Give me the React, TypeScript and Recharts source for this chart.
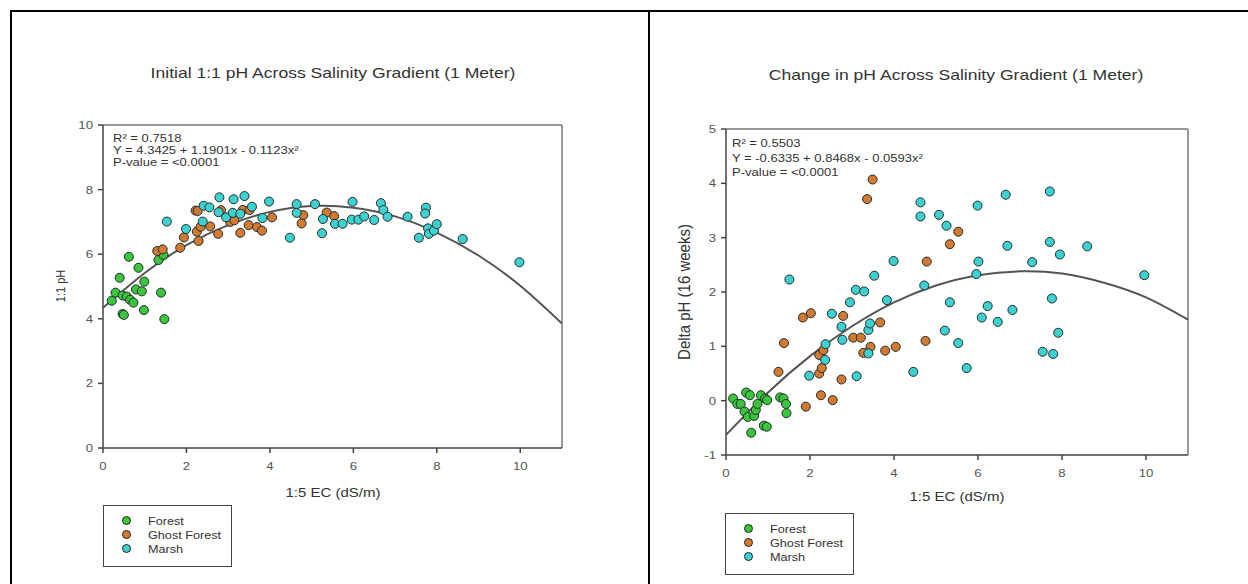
import React from 'react';
import { ComposedChart, Scatter, Line, XAxis, YAxis, ReferenceLine, Legend } from 'recharts';

const FONT = '"Liberation Sans", Arial, sans-serif';

// series colours as in the original SigmaPlot figure
const COLORS = ['#3cc43c', '#d27a32', '#3fd0d0'];
const SERIES_NAMES = ['Forest', 'Ghost Forest', 'Marsh'];

const xTicks = [0, 2, 4, 6, 8, 10];
const initialYTicks = [0, 2, 4, 6, 8, 10];
const deltaYTicks = [-1, 0, 1, 2, 3, 4, 5];

// left panel: initial 1:1 pH vs 1:5 EC
const forestInitial = [
  [0.21, 4.56], [0.3, 4.81], [0.4, 5.27], [0.62, 5.92], [0.47, 4.72], [0.57, 4.69], [0.65, 4.59],
  [0.73, 4.5], [0.47, 4.15], [0.5, 4.12], [0.85, 5.58], [0.79, 4.91], [0.93, 4.85], [0.99, 5.15],
  [0.98, 4.27], [1.39, 4.81], [1.47, 3.99], [1.33, 5.82], [1.45, 5.98],
];
const ghostInitial = [
  [1.3, 6.1], [1.43, 6.15], [1.85, 6.2], [1.94, 6.52], [2.22, 7.35], [2.27, 7.34], [2.25, 6.7],
  [2.29, 6.41], [2.34, 6.85], [2.57, 6.86], [2.76, 6.63], [2.83, 7.36], [3.05, 7.0], [3.15, 7.05],
  [3.29, 6.66], [3.35, 7.37], [3.49, 6.9], [3.51, 7.37], [3.69, 6.84], [3.81, 6.73], [4.05, 7.14],
  [4.8, 7.21], [4.76, 6.95], [5.36, 7.29], [5.54, 7.18],
];
const marshInitial = [
  [1.53, 7.01], [1.99, 6.78], [2.41, 7.5], [2.55, 7.45], [2.39, 7.01], [2.79, 7.76], [2.77, 7.3],
  [2.95, 7.14], [3.13, 7.7], [3.11, 7.28], [3.29, 7.25], [3.39, 7.8], [3.57, 7.47], [3.82, 7.12],
  [3.98, 7.63], [4.48, 6.51], [4.64, 7.55], [4.64, 7.28], [5.08, 7.55], [5.27, 7.09], [5.25, 6.65],
  [5.56, 6.94], [5.74, 6.94], [5.98, 7.62], [5.96, 7.07], [6.12, 7.07], [6.26, 7.17], [6.5, 7.06],
  [6.66, 7.58], [6.72, 7.37], [6.82, 7.16], [7.3, 7.16], [7.74, 7.44], [7.72, 7.26], [7.57, 6.51],
  [7.79, 6.8], [7.81, 6.63], [7.93, 6.73], [8.0, 6.93], [8.62, 6.47], [9.98, 5.75],
];
const fitInitial = [
  [0, 4.34], [1, 5.42], [2, 6.28], [3, 6.9], [4, 7.31], [5, 7.49], [6, 7.44], [7, 7.17],
  [8, 6.67], [9, 5.96], [10, 5.02], [11, 3.85],
];

// right panel: delta pH after 16 weeks
const forestDelta = [
  [0.17, 0.04], [0.27, -0.06], [0.35, -0.06], [0.48, 0.15], [0.57, 0.1], [0.44, -0.2], [0.52, -0.3],
  [0.6, -0.59], [0.67, -0.28], [0.71, -0.17], [0.75, -0.06], [0.83, 0.1], [0.93, 0.04], [0.98, 0.01],
  [0.9, -0.46], [0.97, -0.48], [1.29, 0.06], [1.37, 0.04], [1.43, -0.06], [1.44, -0.23],
];
const ghostDelta = [
  [1.25, 0.53], [1.38, 1.06], [1.83, 1.53], [2.02, 1.61], [1.9, -0.11], [2.22, 0.84], [2.32, 0.93],
  [2.22, 0.5], [2.28, 0.6], [2.26, 0.1], [2.54, 0.01], [2.75, 0.39], [2.79, 1.56], [3.03, 1.16],
  [3.21, 1.16], [3.27, 0.88], [3.36, 3.71], [3.49, 4.07], [3.44, 0.99], [3.67, 1.44], [3.79, 0.92],
  [4.04, 0.99], [4.78, 2.56], [4.75, 1.1], [5.33, 2.88], [5.53, 3.11],
];
const marshDelta = [
  [1.51, 2.23], [1.98, 0.46], [2.36, 0.75], [2.37, 1.04], [2.52, 1.6], [2.75, 1.36], [2.77, 1.12],
  [2.95, 1.81], [3.09, 2.04], [3.29, 2.01], [3.11, 0.45], [3.39, 1.3], [3.43, 1.42], [3.39, 0.87],
  [3.53, 2.3], [3.83, 1.85], [3.99, 2.57], [4.46, 0.53], [4.63, 3.65], [4.63, 3.39], [4.72, 2.12],
  [5.07, 3.42], [5.25, 3.22], [5.33, 1.81], [5.21, 1.29], [5.53, 1.06], [5.73, 0.6], [5.99, 3.59],
  [6.01, 2.56], [5.96, 2.33], [6.09, 1.53], [6.23, 1.74], [6.47, 1.45], [6.66, 3.79], [6.7, 2.85],
  [6.82, 1.67], [7.29, 2.55], [7.71, 3.85], [7.71, 2.92], [7.95, 2.69], [7.76, 1.88], [7.91, 1.25],
  [7.54, 0.9], [7.79, 0.86], [8.6, 2.84], [9.96, 2.31],
];
const fitDelta = [
  [0, -0.63], [1, 0.15], [2, 0.82], [3, 1.37], [4, 1.81], [5, 2.12], [6, 2.31], [7, 2.38],
  [8, 2.34], [9, 2.17], [10, 1.9], [11, 1.49],
];

const toPoints = (pairs: number[][]) => pairs.map(([x, y]) => ({ x, y }));

const XTick = (props: any) => {
  const { x, y, payload } = props;
  return (
    <g transform={`translate(${x},${y}) scale(1.2,1)`}>
      <text x={0} y={0} dy="0.71em" textAnchor="middle" fill="#555" fontSize={11} fontFamily={FONT}>
        {payload.value}
      </text>
    </g>
  );
};

const YTick = (props: any) => {
  const { x, y, payload } = props;
  return (
    <g transform={`translate(${x},${y}) scale(1.2,1)`}>
      <text x={0} y={0} dy="0.355em" textAnchor="end" fill="#555" fontSize={11} fontFamily={FONT}>
        {payload.value}
      </text>
    </g>
  );
};

const LegendBox = () => (
  <div style={{ width: 129, height: 62, border: '1.5px solid #444', boxSizing: 'border-box', background: '#fff', position: 'relative' }}>
    {SERIES_NAMES.map((name, i) => (
      <div key={name} style={{ position: 'absolute', left: 0, top: 7.5 + i * 14, height: 14, width: '100%' }}>
        <span
          style={{
            position: 'absolute', left: 17.7, top: 2.5, width: 9, height: 9, borderRadius: '50%',
            background: COLORS[i], border: '1px solid #222', boxSizing: 'border-box',
          }}
        />
        <span
          style={{
            position: 'absolute', left: 43.8, top: 0, lineHeight: '14px', fontSize: 11.5, color: '#333',
            fontFamily: FONT, whiteSpace: 'nowrap', transform: 'scaleX(1.1)', transformOrigin: 'left center',
          }}
        >
          {name}
        </span>
      </div>
    ))}
  </div>
);

interface PanelProps {
  left: number;
  width: number;
  margin: { top: number; right: number; bottom: number; left: number };
  yDomain: [number, number];
  yTicks: number[];
  series: number[][][];
  fit: number[][];
  legendPos: { left: number; top: number };
}

const Panel = ({ left, width, margin, yDomain, yTicks, series, fit, legendPos }: PanelProps) => (
  <div style={{ position: 'absolute', left, top: 0 }}>
    <ComposedChart width={width} height={584} margin={margin}>
      <XAxis
        type="number" dataKey="x" domain={[0, 11]} ticks={xTicks} allowDataOverflow
        stroke="#444" strokeWidth={1.5} tickSize={5} tickMargin={9} height={30} tick={<XTick />}
      />
      <YAxis
        type="number" dataKey="y" domain={yDomain} ticks={yTicks} allowDataOverflow
        stroke="#444" strokeWidth={1.5} tickSize={5} tickMargin={5} width={58} tick={<YTick />}
      />
      <ReferenceLine y={yDomain[1]} stroke="#777" strokeWidth={1.5} />
      <ReferenceLine x={11} stroke="#777" strokeWidth={1.5} />
      <Line
        data={toPoints(fit)} dataKey="y" type="natural" stroke="#555" strokeWidth={2}
        dot={false} activeDot={false} isAnimationActive={false}
      />
      {series.map((pts, i) => (
        <Scatter
          key={SERIES_NAMES[i]} name={SERIES_NAMES[i]} data={toPoints(pts)} dataKey="y"
          fill={COLORS[i]} stroke="#1f2f2f" strokeWidth={1} isAnimationActive={false}
        />
      ))}
      <Legend
        verticalAlign="middle" align="center" layout="horizontal"
        wrapperStyle={{ left: legendPos.left, top: legendPos.top, width: 129, height: 62 }}
        content={() => <LegendBox />}
      />
    </ComposedChart>
  </div>
);

const textBase: React.CSSProperties = {
  position: 'absolute', fontFamily: FONT, whiteSpace: 'nowrap', color: '#333',
};

const Centered = ({ x, y, size, sx, children }: any) => (
  <div style={{ ...textBase, left: x, top: y, fontSize: size, lineHeight: 1, transform: `translate(-50%, -50%) scaleX(${sx})` }}>
    {children}
  </div>
);

const Rotated = ({ x, y, size, sy, children }: any) => (
  <div style={{ ...textBase, left: x, top: y, fontSize: size, lineHeight: 1, transform: `translate(-50%, -50%) rotate(-90deg) scaleY(${sy})` }}>
    {children}
  </div>
);

const Note = ({ x, rows, lines }: { x: number; rows: number[]; lines: string[] }) => (
  <>
    {lines.map((t, i) => (
      <div
        key={t}
        style={{
          ...textBase, left: x, top: rows[i], fontSize: 10.5, lineHeight: 1,
          transform: 'translateY(-50%) scaleX(1.24)', transformOrigin: 'left center',
        }}
      >
        {t}
      </div>
    ))}
  </>
);

export default function App() {
  return (
    <div style={{ position: 'absolute', left: 0, top: 0, width: 1248, height: 584, background: '#fff', overflow: 'hidden' }}>
      <Panel
        left={0} width={640}
        margin={{ top: 125, right: 78, bottom: 106, left: 45 }}
        yDomain={[0, 10]} yTicks={initialYTicks}
        series={[forestInitial, ghostInitial, marshInitial]} fit={fitInitial}
        legendPos={{ left: 103, top: 505 }}
      />
      <Panel
        left={650} width={598}
        margin={{ top: 129, right: 60, bottom: 99, left: 18 }}
        yDomain={[-1, 5]} yTicks={deltaYTicks}
        series={[forestDelta, ghostDelta, marshDelta]} fit={fitDelta}
        legendPos={{ left: 75, top: 513 }}
      />

      {/* table frame */}
      <div style={{ position: 'absolute', left: 10, top: 10, width: 1238, height: 2, background: '#000' }} />
      <div style={{ position: 'absolute', left: 10, top: 10, width: 2, height: 574, background: '#000' }} />
      <div style={{ position: 'absolute', left: 648, top: 10, width: 2, height: 574, background: '#000' }} />

      <Centered x={333} y={72} size={15} sx={1.17}>Initial 1:1 pH Across Salinity Gradient (1 Meter)</Centered>
      <Centered x={956} y={74} size={15} sx={1.17}>Change in pH Across Salinity Gradient (1 Meter)</Centered>

      <Centered x={333} y={493} size={12.5} sx={1.2}>1:5 EC (dS/m)</Centered>
      <Centered x={957} y={497} size={12.5} sx={1.2}>1:5 EC (dS/m)</Centered>

      <Rotated x={61} y={286} size={11} sy={1.2}>1:1 pH</Rotated>
      <Rotated x={684} y={292} size={15} sy={1.05}>Delta pH (16 weeks)</Rotated>

      <Note x={113} rows={[138, 150, 162]} lines={['R² = 0.7518', 'Y = 4.3425 + 1.1901x - 0.1123x²', 'P-value = <0.0001']} />
      <Note x={732} rows={[143, 158, 172]} lines={['R² = 0.5503', 'Y = -0.6335 + 0.8468x - 0.0593x²', 'P-value = <0.0001']} />
    </div>
  );
}
